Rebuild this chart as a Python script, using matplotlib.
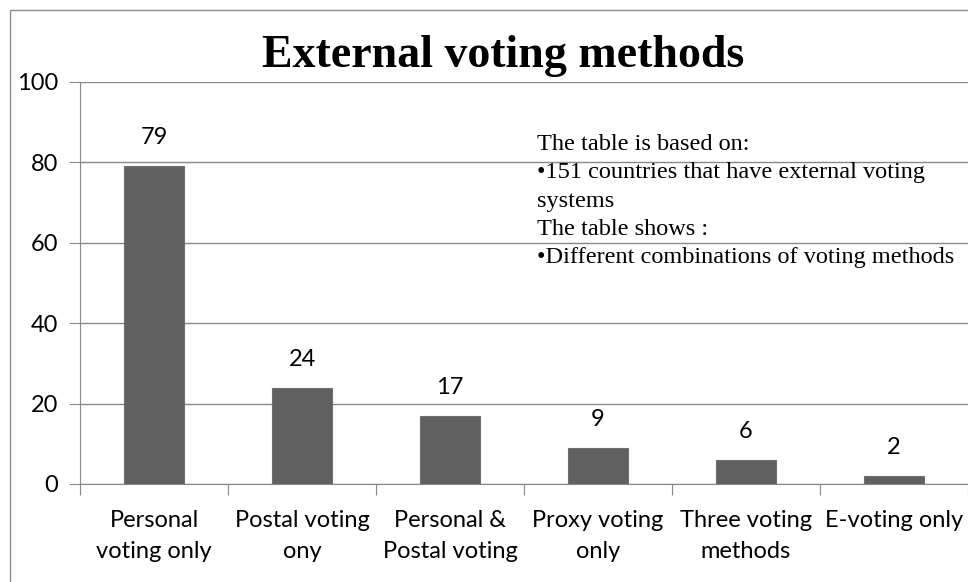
import matplotlib.pyplot as plt
from matplotlib.patches import Rectangle

categories = ['Personal\nvoting only', 'Postal voting\nony', 'Personal &\nPostal voting',
              'Proxy voting\nonly', 'Three voting\nmethods', 'E-voting only']
counts = [79, 24, 17, 9, 6, 2]
yticks = [0, 20, 40, 60, 80, 100]

note = ('The table is based on:\n'
        '\u2022151 countries that have external voting\n'
        'systems\n'
        'The table shows :\n'
        '\u2022Different combinations of voting methods')

W, H = 968, 582
fig = plt.figure(figsize=(W / 100, H / 100), dpi=100)
ax = fig.add_axes([80 / W, 1 - 484 / H, 888 / W, 402 / H])

x = range(len(categories))
ax.bar(x, counts, width=0.4, color='#606060', edgecolor='#707070', linewidth=0.8, zorder=3)
for xi, v in zip(x, counts):
    ax.annotate(str(v), xy=(xi, v), xytext=(0, 20.5), textcoords='offset points',
                ha='center', va='center', fontsize=17, family='Lato')

ax.set_xlim(-0.5, len(categories) - 0.5)
ax.set_ylim(0, 100)
ax.set_yticks(yticks)
ax.set_yticklabels([str(t) for t in yticks], family='Lato', fontsize=17)
ax.set_xticks([i + 0.5 for i in range(-1, len(categories))])
ax.set_xticklabels([])
ax.set_xticks(list(x), minor=True)
ax.set_xticklabels(categories, minor=True, family='Lato', fontsize=17, linespacing=1.55)
ax.tick_params(axis='x', which='major', length=8, color='#888888', direction='out')
ax.tick_params(axis='x', which='minor', length=0, pad=19)
ax.tick_params(axis='y', length=8, color='#888888', pad=8)
ax.grid(axis='y', color='#888888', linewidth=1, zorder=0)
for s in ['top', 'right']:
    ax.spines[s].set_visible(False)
ax.spines['left'].set_color('#888888')
ax.spines['bottom'].set_color('#888888')

ax.text(537 / W, 1 - 201 / H, note, transform=fig.transFigure, ha='left', va='center',
        family='Liberation Serif', fontsize=17.5, linespacing=1.46)
fig.text(503 / W, 1 - 56 / H, 'External voting methods', ha='center', va='center',
         family='Liberation Serif', fontweight='bold', fontsize=33)

fig.patches.append(Rectangle((10 / W, -0.1), 1.2, 1 - 10 / H + 0.1, transform=fig.transFigure,
                             fill=False, edgecolor='#8c8c8c', linewidth=1))

fig.savefig('out.png', dpi=100)
